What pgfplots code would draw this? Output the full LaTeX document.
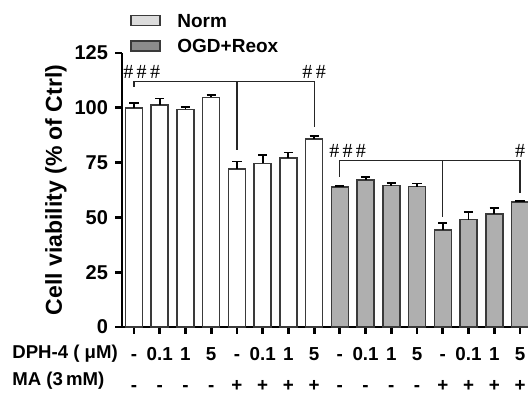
\documentclass[border=0pt]{standalone}
\usepackage{fontspec}
\setmainfont{Liberation Sans}
\newfontfamily\hashfont{Liberation Serif}
\usepackage{pgfplots}
\pgfplotsset{compat=1.18}
\definecolor{barg}{HTML}{AFAFAF}
\definecolor{bardraw}{HTML}{3A3A3A}
\definecolor{leglight}{HTML}{DCDCDC}
\definecolor{legdark}{HTML}{8C8C8C}
\begin{document}
\begin{tikzpicture}
\begin{axis}[
  at={(61pt,33.5pt)}, anchor=south west,
  scale only axis, width=203pt, height=137pt,
  xmin=-0.465, xmax=15.31, ymin=0, ymax=125,
  axis x line=bottom, axis y line=left,
  axis line style={line width=1.3pt, -, black},
  clip=false,
  ytick={0,25,50,75,100,125},
  xtick={0,...,15},
  xticklabels={-,0.1,1,5,-,0.1,1,5,-,0.1,1,5,-,0.1,1,5},
  extra x ticks={0,...,15},
  extra x tick labels={-,-,-,-,+,+,+,+,-,-,-,-,+,+,+,+},
  extra x tick style={major tick length=0pt, xticklabel style={yshift=-19pt}},
  tick align=outside, major tick length=3.5pt,
  tick style={line width=1.4pt, black},
  /pgf/number format/assume math mode=true,
  tick label style={font=\bfseries\fontsize{9.4}{11}\selectfont},
  yticklabel style={font=\bfseries\fontsize{10}{12}\selectfont},
  xticklabel style={anchor=base, yshift=-13.5pt},
  legend style={at={(axis description cs:0,1)}, anchor=south west, xshift=4pt, yshift=-1pt,
    draw=none, fill=none, inner sep=0pt, row sep=4pt,
    font=\bfseries\fontsize{9.5}{11}\selectfont,
    nodes={inner sep=1pt, text depth=0pt}},
  legend cell align=left,
]
\addlegendimage{legend image code/.code={\draw[fill=leglight, draw=bardraw, line width=0.6pt] (0pt,-2.5pt) rectangle (14.5pt,2.5pt); \path (22pt,0pt);}}
\addlegendimage{legend image code/.code={\draw[fill=legdark, draw=bardraw, line width=0.6pt] (0pt,-2.5pt) rectangle (14.5pt,2.5pt); \path (22pt,0pt);}}
\legend{Norm, OGD+Reox}
\addplot[ybar, bar width=0.66, bar shift=0pt, fill=white, draw=bardraw, line width=0.75pt,
  error bars/.cd, y dir=plus, y explicit,
  error bar style={line width=0.9pt, black},
  error mark options={line width=0.9pt, mark size=2.3pt, black, rotate=90}]
coordinates {
 (0,100.0) +- (0,2.2)
 (1,101.2) +- (0,3.0)
 (2,99.3) +- (0,1.0)
 (3,104.8) +- (0,1.2)
 (4,72.0) +- (0,3.5)
 (5,74.7) +- (0,3.8)
 (6,77.0) +- (0,2.6)
 (7,85.8) +- (0,1.3)
};
\addplot[ybar, bar width=0.66, bar shift=0pt, fill=barg, draw=bardraw, line width=0.75pt,
  error bars/.cd, y dir=plus, y explicit,
  error bar style={line width=0.9pt, black},
  error mark options={line width=0.9pt, mark size=2.3pt, black, rotate=90}]
coordinates {
 (8,63.8) +- (0,0.7)
 (9,67.1) +- (0,1.5)
 (10,64.5) +- (0,1.1)
 (11,64.0) +- (0,1.5)
 (12,44.3) +- (0,3.2)
 (13,49.0) +- (0,3.5)
 (14,51.6) +- (0,2.7)
 (15,57.1) +- (0,0.5)
};
% brackets
\draw[line width=0.6pt, black!85] (axis cs:0,109.5) -- (axis cs:0,112) -- (axis cs:7,112) -- (axis cs:7,91.3);
\draw[line width=0.6pt, black!85] (axis cs:4,112) -- (axis cs:4,80.8);
\draw[line width=0.6pt, black!85] (axis cs:8,68.5) -- (axis cs:8,75.8) -- (axis cs:15,75.8) -- (axis cs:15,61);
\draw[line width=0.6pt, black!85] (axis cs:12,75.8) -- (axis cs:12,50);
\node[anchor=base, font=\hashfont\fontsize{10}{11}\selectfont, inner sep=0pt] at (axis cs:0.3,113.5) {\#\,\#\,\#};
\node[anchor=base, font=\hashfont\fontsize{10}{11}\selectfont, inner sep=0pt] at (axis cs:7,113.5) {\#\,\#};
\node[anchor=base, font=\hashfont\fontsize{10}{11}\selectfont, inner sep=0pt] at (axis cs:8.3,77.5) {\#\,\#\,\#};
\node[anchor=base, font=\hashfont\fontsize{10}{11}\selectfont, inner sep=0pt] at (axis cs:15,77.5) {\#};
% y label
\node[rotate=90, anchor=center, inner sep=0pt, font=\bfseries\fontsize{11.5}{13}\selectfont] at ([xshift=-33pt]rel axis cs:0,0.5) {Cell viability (\% of Ctrl)};
% row labels
\node[anchor=base west, inner sep=0pt, font=\bfseries\fontsize{9.3}{11}\selectfont] at ([xshift=-55pt, yshift=-16pt]rel axis cs:0,0) {DPH-4 ( μM)};
\node[anchor=base west, inner sep=0pt, font=\bfseries\fontsize{9.3}{11}\selectfont] at ([xshift=-55pt, yshift=-29.5pt]rel axis cs:0,0) {MA (3\,mM)};
\end{axis}
\pgfresetboundingbox
\useasboundingbox (0pt,0pt) rectangle (264pt,197pt);
\end{tikzpicture}
\end{document}
